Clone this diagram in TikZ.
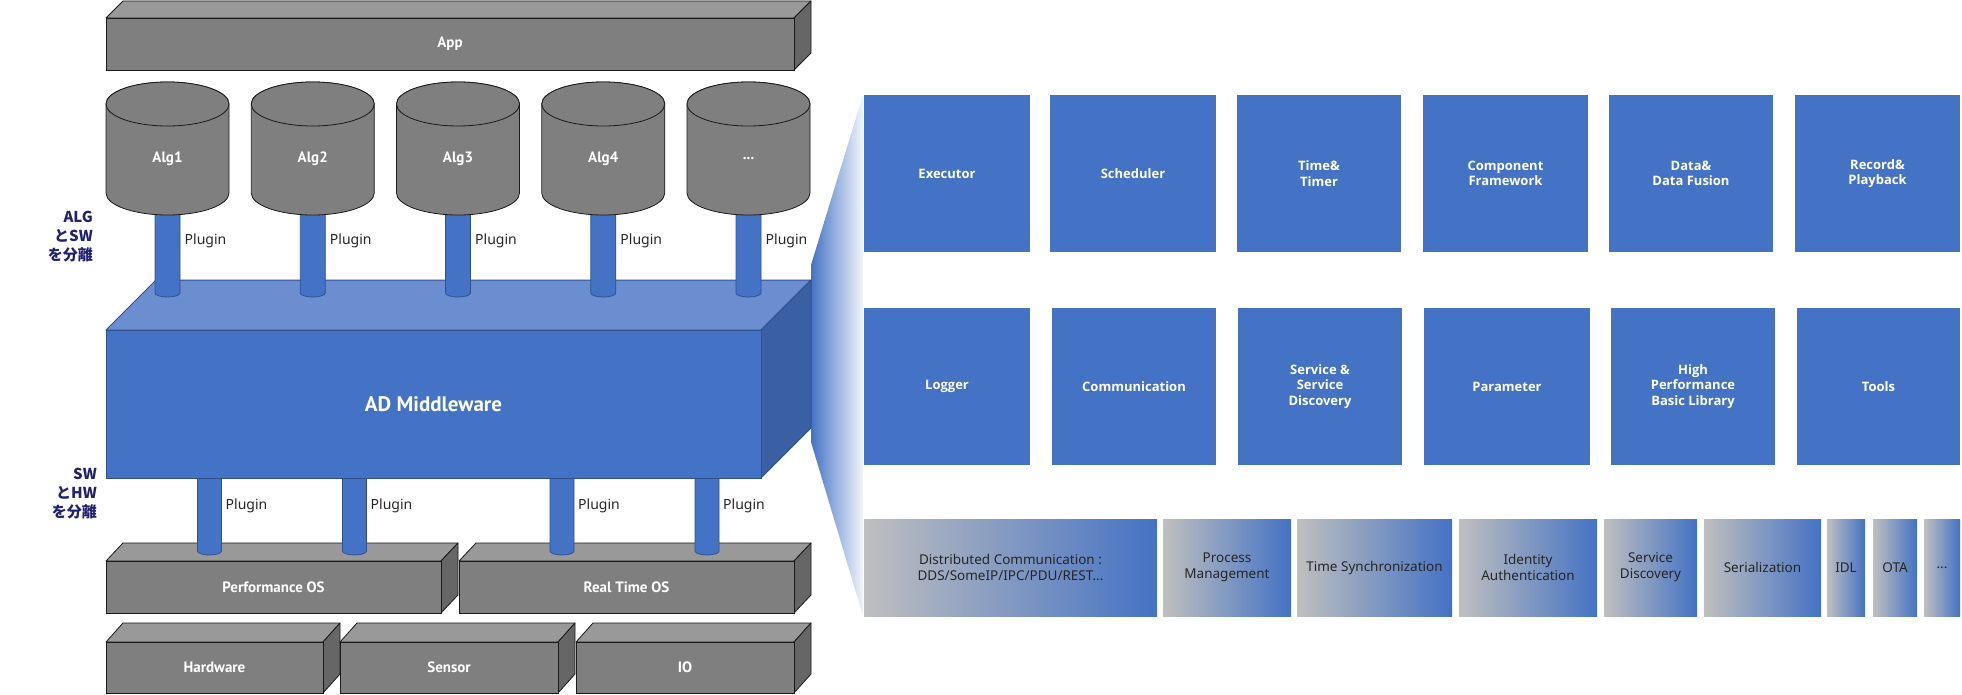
\documentclass[tikz,border=0pt]{standalone}
\usepackage{fontspec}
\setmainfont{Noto Sans}
\newfontfamily\ptfont{PT Sans}
\newfontfamily\tilefont{Open Sans}
\newfontfamily\jpfont{Noto Sans CJK JP}
\definecolor{mblue}{HTML}{4472C4}
\definecolor{mbluetop}{HTML}{6A8ECF}
\definecolor{mblueside}{HTML}{3B5FA3}
\definecolor{mblueline}{HTML}{2F528F}
\definecolor{gfront}{HTML}{7F7F7F}
\definecolor{gtop}{HTML}{999999}
\definecolor{gside}{HTML}{666666}
\definecolor{gline}{HTML}{1A1A1A}
\definecolor{lgray}{HTML}{BFBFBF}
\definecolor{navy}{HTML}{21216E}
\definecolor{fanend}{HTML}{F2F5FB}
\tikzset{
  graytop/.style={fill=gtop, draw=gline, line width=0.8pt, line join=round},
  grayside/.style={fill=gside, draw=gline, line width=0.8pt, line join=round},
  grayfront/.style={fill=gfront, draw=gline, line width=0.8pt},
  bluetop/.style={fill=mbluetop, draw=mblueline, line width=1pt, line join=round},
  blueside/.style={fill=mblueside, draw=mblueline, line width=1pt, line join=round},
  bluefront/.style={fill=mblue, draw=mblueline, line width=1pt},
  graylabel/.style={text=white, font=\ptfont\bfseries\fontsize{15}{18}\selectfont},
  bluelabel/.style={text=white, font=\ptfont\bfseries\fontsize{21}{24}\selectfont},
  cyl/.style={fill=gfront, draw=gline, line width=0.8pt},
  rod/.style={fill=mblue, draw=mblueline, line width=0.8pt},
  pluglabel/.style={anchor=west, text=black!85, inner sep=0pt, font=\fontsize{14}{16}\selectfont},
  jplabel/.style={anchor=east, align=right, inner sep=0pt, text=navy, font=\jpfont\bfseries\fontsize{15}{19}\selectfont},
  modbox/.style={fill=mblue, text=white, align=center, inner sep=0pt, font=\tilefont\bfseries\fontsize{13}{15.7}\selectfont},
  featbox/.style={left color=lgray, right color=mblue, text=black!85, align=center, inner sep=0pt, font=\fontsize{13.5}{16}\selectfont},
}
% #1 style prefix, #2 name, #3 x1, #4 y1, #5 x2, #6 y2, #7 dx, #8 dy, #9 label
\newcommand{\solidbox}[9]{%
  \path[#1top] (#3,#4) -- ++(#7,-#8) -- (#5+#7,#4-#8) -- (#5,#4) -- cycle;
  \path[#1side] (#5,#4) -- (#5+#7,#4-#8) -- (#5+#7,#6-#8) -- (#5,#6) -- cycle;
  \path[#1front] (#3,#4) rectangle (#5,#6);
  \node[#1label] (#2) at ({(#3+#5)/2},{(#4+#6)/2}) {#9};
}
% #1 name, #2 centre x, #3 label
\newcommand{\algcyl}[3]{%
  \path[cyl] (#2-61.5,104) -- (#2-61.5,193)
    arc[start angle=180, end angle=0, x radius=61.5, y radius=22]
    -- (#2+61.5,104)
    arc[start angle=0, end angle=-180, x radius=61.5, y radius=22] -- cycle;
  \path[cyl] (#2,104) ellipse[x radius=61.5, y radius=22];
  \node[graylabel] (#1) at (#2,159) {#3};
}
% #1 name, #2 centre x, #3 top y, #4 bottom y, #5 half width
\newcommand{\plugrod}[5]{%
  \coordinate (#1t) at (#2,#3);
  \coordinate (#1b) at (#2,#4);
  \path[rod] (#2-#5,#3) -- (#2-#5,#4-4)
    arc[start angle=180, end angle=0, x radius=#5, y radius=4]
    -- (#2+#5,#3) -- cycle;
}
% #1 style, #2 name, #3 x1, #4 x2, #5 y1, #6 y2, #7 text
\newcommand{\tile}[7]{%
  \node[#1, minimum width={#4-#3}, minimum height={#6-#5}] (#2)
    at ({(#3+#4)/2},{(#5+#6)/2}) {#7};
}
\begin{document}
\begin{tikzpicture}[x=1pt, y=-1pt]
\useasboundingbox (0,0) rectangle (1962,695);

% left stack
\solidbox{gray}{app}{106}{18}{794}{70}{17}{17}{App}
\solidbox{gray}{hw}{106}{642}{323}{693}{17}{19}{Hardware}
\solidbox{gray}{sensor}{340}{642}{558}{693}{17}{19}{Sensor}
\solidbox{gray}{io}{576}{642}{794}{693}{17}{19}{IO}
\solidbox{gray}{pos}{106}{561}{441}{613}{17}{18}{Performance OS}
\solidbox{gray}{rtos}{459}{561}{794}{613}{17}{18}{Real Time OS}

% lower plugins
\plugrod{q1}{209.5}{470}{555}{12}
\plugrod{q2}{354.5}{470}{555}{12}
\plugrod{q3}{562}{470}{555}{12}
\plugrod{q4}{707}{470}{555}{12}

% zoom fan
\shade[left color=mblue, right color=fanend] (811,265) -- (863,95) -- (863,616) -- (811,442) -- cycle;

% middleware
\solidbox{blue}{mw}{106}{330}{761}{478}{50}{50}{AD Middleware}

% upper plugins
\plugrod{p1}{167.5}{205}{297}{12.5}
\plugrod{p2}{312.75}{205}{297}{12.5}
\plugrod{p3}{458}{205}{297}{12.5}
\plugrod{p4}{603.25}{205}{297}{12.5}
\plugrod{p5}{748.5}{205}{297}{12.5}

% algorithm cylinders
\algcyl{alg1}{167.5}{Alg1}
\algcyl{alg2}{312.75}{Alg2}
\algcyl{alg3}{458}{Alg3}
\algcyl{alg4}{603.25}{Alg4}
\algcyl{alg5}{748.5}{...}

% plugin labels
\foreach \c/\n in {167.5/1, 312.75/2, 458/3, 603.25/4, 748.5/5}
  \node[pluglabel] (pl\n) at (\c+17,241) {Plugin};
\foreach \c/\n in {209.5/1, 354.5/2, 562/3, 707/4}
  \node[pluglabel] (ql\n) at (\c+16,506) {Plugin};

% side notes
\node[jplabel] (sepalg) at (93,237) {ALG\\とSW\\を分離};
\node[jplabel] (sephw) at (97,494) {SW\\とHW\\を分離};

% module tiles, row 1
\tile{modbox}{exec}{864}{1030}{95}{252}{Executor}
\tile{modbox}{sched}{1050}{1216}{95}{252}{Scheduler}
\tile{modbox}{timer}{1237}{1401}{95}{252}{Time\&\\Timer}
\tile{modbox}{comp}{1423}{1588}{95}{252}{Component\\Framework}
\tile{modbox}{data}{1609}{1773}{95}{252}{Data\&\\Data Fusion}
\tile{modbox}{rec}{1795}{1960}{95}{252}{Record\&\\Playback}
% row 2
\tile{modbox}{logger}{864}{1030}{308}{465}{Logger}
\tile{modbox}{commu}{1052}{1216}{308}{465}{Communication}
\tile{modbox}{servd}{1238}{1402}{308}{465}{Service \&\\Service\\Discovery}
\tile{modbox}{param}{1424}{1590}{308}{465}{Parameter}
\tile{modbox}{hpbl}{1611}{1775}{308}{465}{High\\Performance\\Basic Library}
\tile{modbox}{tools}{1797}{1960}{308}{465}{Tools}
% row 3
\tile{featbox}{dist}{864}{1157}{519}{616}{Distributed Communication :\\DDS/SomeIP/IPC/PDU/REST...}
\tile{featbox}{proc}{1163}{1291}{519}{616}{Process\\Management}
\tile{featbox}{tsync}{1297}{1452}{519}{616}{Time Synchronization}
\tile{featbox}{ident}{1459}{1597}{519}{616}{Identity\\Authentication}
\tile{featbox}{sdisc}{1604}{1697}{519}{616}{Service\\Discovery}
\tile{featbox}{serial}{1704}{1821}{519}{616}{Serialization}
\tile{featbox}{idl}{1827}{1865}{519}{616}{IDL}
\tile{featbox}{ota}{1873}{1917}{519}{616}{OTA}
\tile{featbox}{more}{1924}{1960}{519}{616}{...}
\end{tikzpicture}
\end{document}
